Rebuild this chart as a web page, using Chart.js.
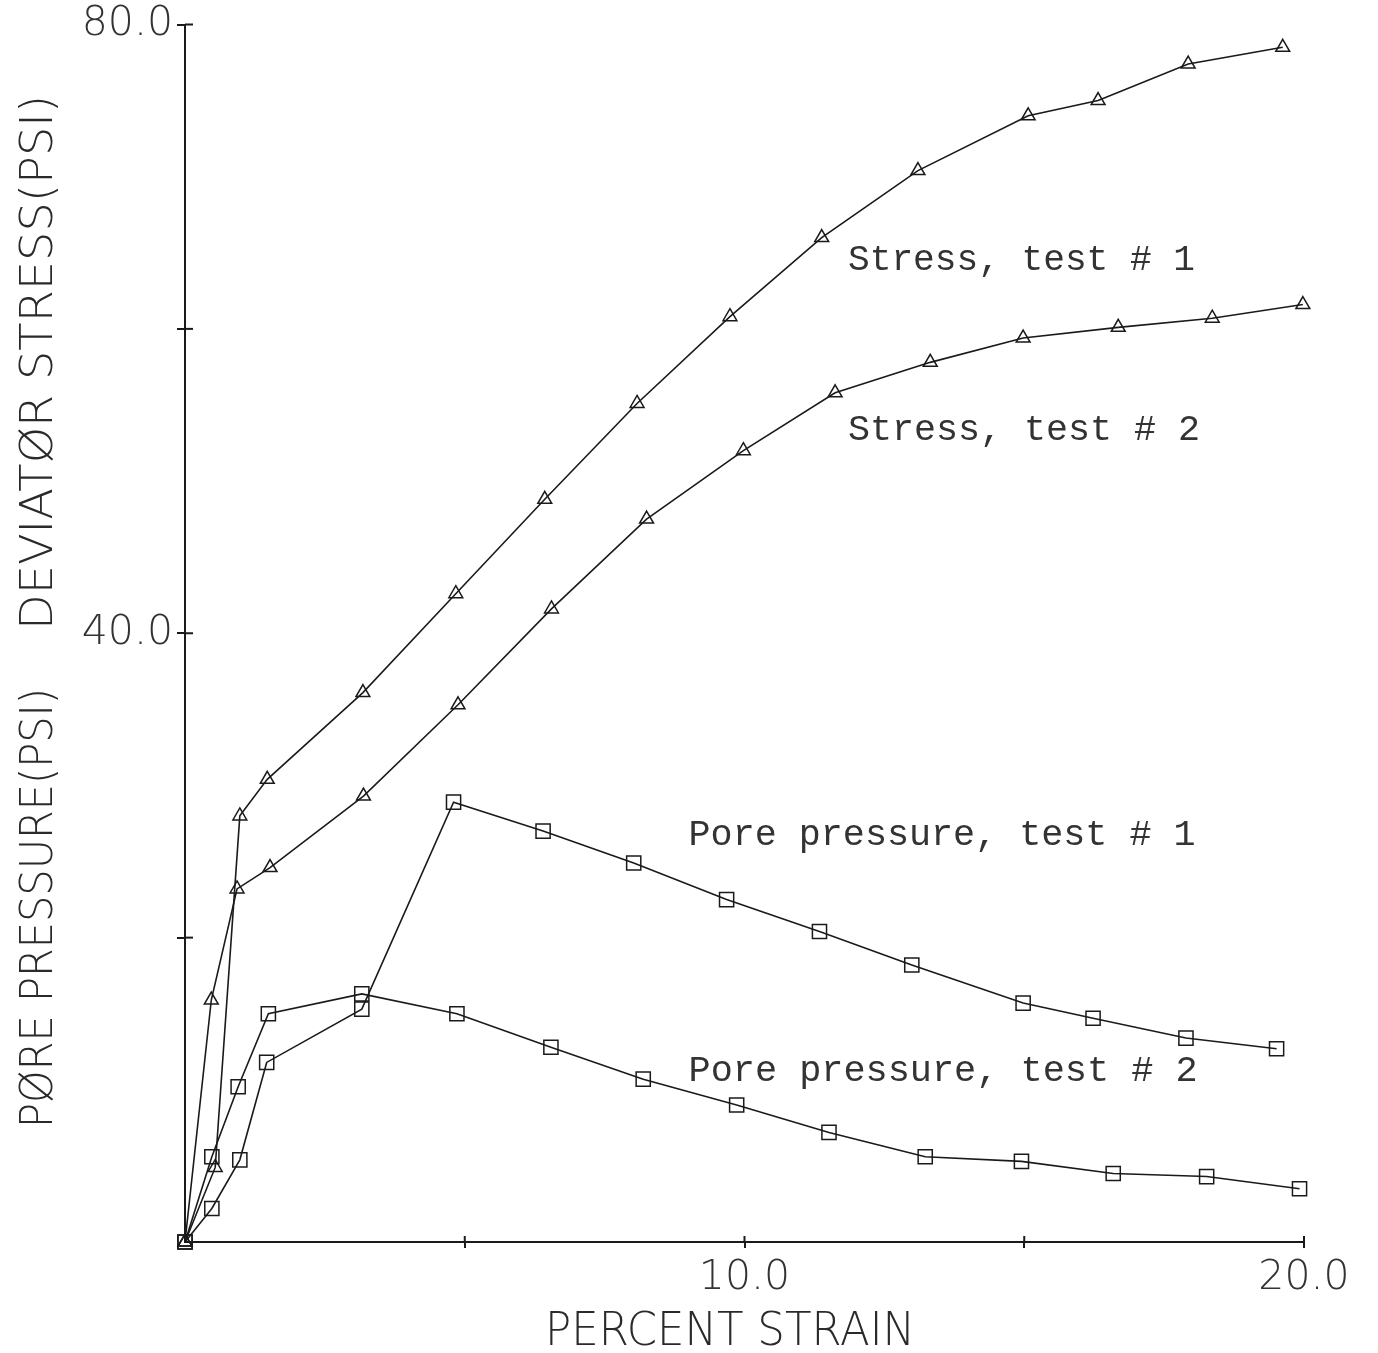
<!DOCTYPE html>
<html><head><meta charset="utf-8">
<script src="https://cdn.jsdelivr.net/npm/chart.js@4.4.1/dist/chart.umd.min.js"></script>
<style>html,body{margin:0;padding:0;background:#fff;}#wrap{width:1378px;height:1353px;position:relative;}</style>
</head><body><div id="wrap"><canvas id="c" width="1378" height="1353"></canvas></div>
<script>
// ---- data (percent strain, psi) ----
const stress1Strain = [0, 0.54, 0.98, 1.47, 3.18, 4.84, 6.43, 8.08, 9.74, 11.38, 13.10, 15.07, 16.32, 17.93, 19.62];
const stress1Psi    = [0, 4.9, 28.0, 30.4, 36.1, 42.6, 48.8, 55.1, 60.8, 66.0, 70.4, 74.0, 75.0, 77.4, 78.5];
const stress2Strain = [0, 0.47, 0.93, 1.52, 3.19, 4.88, 6.55, 8.25, 9.98, 11.62, 13.32, 14.98, 16.68, 18.36, 19.98];
const stress2Psi    = [0, 15.9, 23.2, 24.6, 29.3, 35.3, 41.6, 47.5, 52.0, 55.8, 57.8, 59.4, 60.1, 60.7, 61.6];
const pore1Strain   = [0, 0.48, 0.98, 1.46, 3.16, 4.80, 6.40, 8.02, 9.68, 11.34, 12.99, 14.98, 16.23, 17.89, 19.51];
const pore1Psi      = [0, 2.2, 5.4, 11.8, 15.3, 28.9, 27.0, 24.9, 22.5, 20.4, 18.2, 15.7, 14.7, 13.4, 12.7];
const pore2Strain   = [0, 0.48, 0.95, 1.49, 3.16, 4.86, 6.54, 8.19, 9.86, 11.51, 13.23, 14.95, 16.59, 18.26, 19.92];
const pore2Psi      = [0, 5.6, 10.2, 15.0, 16.3, 15.0, 12.8, 10.7, 9.0, 7.2, 5.6, 5.3, 4.5, 4.3, 3.5];

const xTickValues = [5, 10, 15, 20];
const xLabelledTicks = [10, 20];
const yTickValues = [20, 40, 60, 80];
const yLabelledTicks = [40, 80];

const xTitle = 'PERCENT STRAIN';
const yTitleStress = 'DEVIATØR STRESS(PSI)';
const yTitlePore = 'PØRE PRESSURE(PSI)';
const seriesLabels = ['Stress, test # 1', 'Stress, test # 2', 'Pore pressure, test # 1', 'Pore pressure, test # 2'];

function pts(xs, ys) { return xs.map((v, i) => ({ x: v, y: ys[i] })); }

const INK = '#1a1a1a';
const plotFont = 'DejaVu Sans';

function fitText(ctx, text, x0, y0, width, font, rot) {
  ctx.save();
  ctx.font = font;
  const w = ctx.measureText(text).width;
  ctx.translate(x0, y0);
  if (rot) ctx.rotate(rot);
  ctx.scale(width / w, 1);
  ctx.fillText(text, 0, 0);
  ctx.restore();
}

const plotterPlugin = {
  id: 'plotter',
  afterDraw(chart) {
    const { ctx, scales: { x, y } } = chart;
    ctx.save();
    ctx.strokeStyle = INK;
    ctx.lineWidth = 2;
    // inner halves of the crossing tick marks
    yTickValues.forEach(v => {
      const py = y.getPixelForValue(v);
      ctx.beginPath(); ctx.moveTo(x.left, py); ctx.lineTo(x.left + 8, py); ctx.stroke();
    });
    xTickValues.forEach(v => {
      const px = x.getPixelForValue(v);
      ctx.beginPath(); ctx.moveTo(px, y.bottom); ctx.lineTo(px, y.bottom - 6); ctx.stroke();
    });
    // axis titles (plotter lettering)
    ctx.fillStyle = '#2a2a2a';
    ctx.textBaseline = 'alphabetic';
    ctx.textAlign = 'left';
    fitText(ctx, xTitle, 545, 1345, 370, '200 46px "' + plotFont + '"');
    fitText(ctx, yTitleStress, 52, 630, 535, '200 45px "' + plotFont + '"', -Math.PI / 2);
    fitText(ctx, yTitlePore, 52, 1128, 440, '200 45px "' + plotFont + '"', -Math.PI / 2);
    // curve labels (typewriter lettering), anchored in data coordinates
    ctx.fillStyle = '#333';
    const tw = '36px "Liberation Mono"';
    const anchors = [
      { x: 11.85, y: 63.9, w: 347 },
      { x: 11.85, y: 52.7, w: 352 },
      { x: 9.0, y: 26.1, w: 507 },
      { x: 9.0, y: 10.6, w: 509 }
    ];
    anchors.forEach((a, i) => {
      fitText(ctx, seriesLabels[i], x.getPixelForValue(a.x), y.getPixelForValue(a.y), a.w, tw);
    });
    ctx.restore();
  }
};

const tickFont = { family: plotFont, size: 41, weight: 200, lineHeight: 1 };

function ds(label, data, style, r) {
  return {
    label, data, showLine: true,
    borderColor: INK, borderWidth: 1.6, tension: 0,
    pointStyle: style, pointRadius: r, pointBorderWidth: 1.5,
    pointBorderColor: INK, pointBackgroundColor: 'rgba(255,255,255,0)',
    clip: false
  };
}

new Chart(document.getElementById('c'), {
  type: 'scatter',
  data: {
    datasets: [
      ds(seriesLabels[0], pts(stress1Strain, stress1Psi), 'triangle', 8),
      ds(seriesLabels[1], pts(stress2Strain, stress2Psi), 'triangle', 8),
      ds(seriesLabels[2], pts(pore1Strain, pore1Psi), 'rect', 10),
      ds(seriesLabels[3], pts(pore2Strain, pore2Psi), 'rect', 10)
    ]
  },
  options: {
    responsive: false,
    animation: false,
    events: [],
    layout: { padding: { left: 0, right: 74, top: 22, bottom: 0 } },
    plugins: { legend: { display: false }, tooltip: { enabled: false } },
    scales: {
      x: {
        type: 'linear', min: 0, max: 20,
        afterFit(s) { s.height = 111; },
        afterBuildTicks(s) { s.ticks = xTickValues.map(v => ({ value: v })); },
        border: { display: true, color: INK, width: 2 },
        grid: { drawOnChartArea: false, drawTicks: true, tickLength: 6, color: INK, lineWidth: 2 },
        ticks: {
          callback: v => xLabelledTicks.includes(v) ? v.toFixed(1) : '',
          font: tickFont, color: '#333', padding: 10, maxRotation: 0, autoSkip: false
        }
      },
      y: {
        type: 'linear', min: 0, max: 80,
        afterFit(s) { s.width = 185; },
        afterBuildTicks(s) { s.ticks = yTickValues.map(v => ({ value: v })); },
        border: { display: true, color: INK, width: 2 },
        grid: { drawOnChartArea: false, drawTicks: true, tickLength: 8, color: INK, lineWidth: 2 },
        ticks: {
          callback: v => yLabelledTicks.includes(v) ? v.toFixed(1) : '',
          font: tickFont, color: '#333', padding: 4, autoSkip: false
        }
      }
    }
  },
  plugins: [plotterPlugin]
});
</script></body></html>
